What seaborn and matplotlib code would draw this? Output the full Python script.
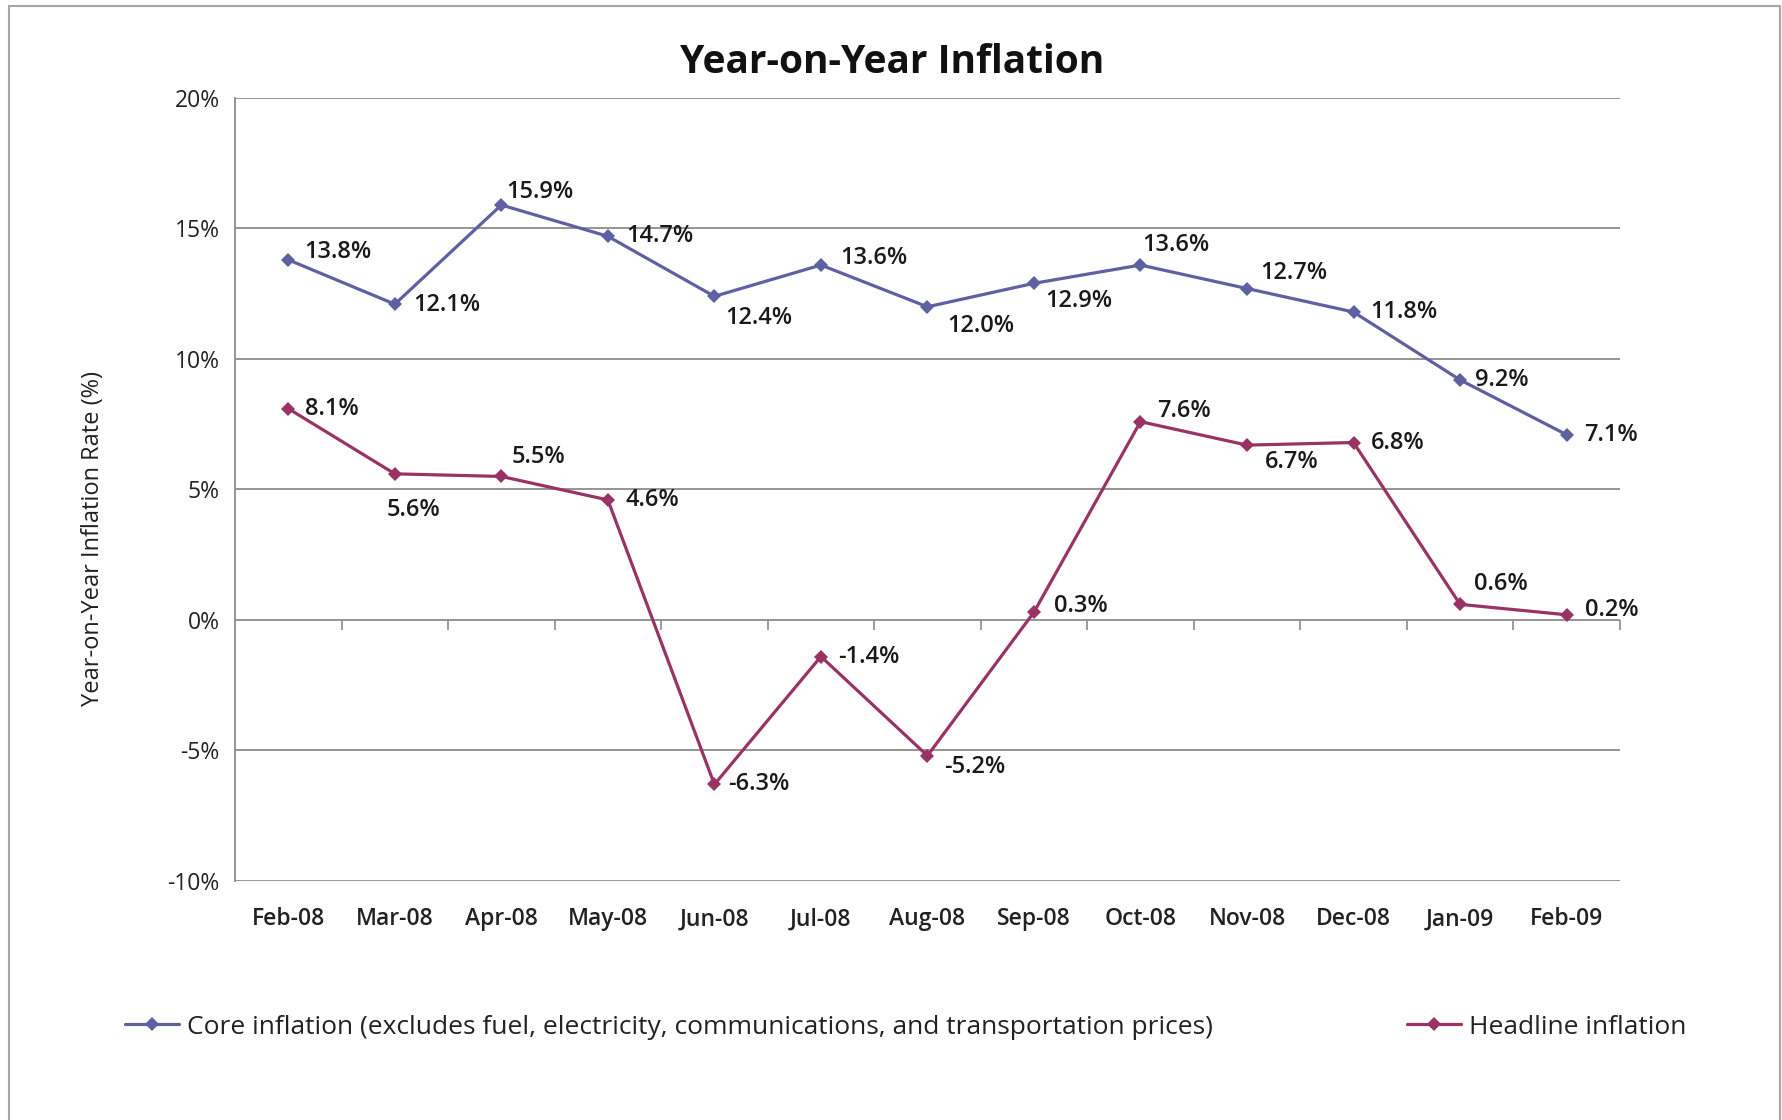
"""Year-on-year inflation chart: core vs headline, Feb-08 to Feb-09."""

import matplotlib
matplotlib.use("Agg")
import matplotlib.pyplot as plt
from matplotlib.patches import Rectangle
import numpy as np
import pandas as pd
import seaborn as sns

# Data
months = ["Feb-08", "Mar-08", "Apr-08", "May-08", "Jun-08", "Jul-08", "Aug-08",
          "Sep-08", "Oct-08", "Nov-08", "Dec-08", "Jan-09", "Feb-09"]
core = [13.8, 12.1, 15.9, 14.7, 12.4, 13.6, 12.0, 12.9, 13.6, 12.7, 11.8, 9.2, 7.1]
headline = [8.1, 5.6, 5.5, 4.6, -6.3, -1.4, -5.2, 0.3, 7.6, 6.7, 6.8, 0.6, 0.2]
core_name = "Core inflation (excludes fuel, electricity, communications, and transportation prices)"
headline_name = "Headline inflation"
y_ticks = [-10, -5, 0, 5, 10, 15, 20]

# label offsets (pixels) - hand placed like the original
core_offsets = [(16, 8), (18, -1), (5, 13), (18, 0), (11, -22), (19, 7), (20, -19),
                (11, -18), (2, 20), (13, 16), (17, 0), (15, 0), (18, 0)]
headline_offsets = [(17, 0), (-8, -36), (10, 19), (18, 0), (14, 0), (17, 0), (17, -11),
                    (20, 6), (17, 11), (18, -17), (17, 0), (14, 20), (18, 5)]

core_color = "#5F60A2"
headline_color = "#993366"
grid_color = "#8C8C8C"

sns.set_style("white")
plt.rcParams["font.family"] = ["Open Sans", "DejaVu Sans"]

fig = plt.figure(figsize=(17.82, 11.2), dpi=100)
ax = fig.add_axes([0.1319, 0.2134, 0.909 - 0.1319, 0.9125 - 0.2134])

df = pd.DataFrame({
    "month": months * 2,
    "value": core + headline,
    "series": [core_name] * len(months) + [headline_name] * len(months),
})
sns.lineplot(data=df, x="month", y="value", hue="series", sort=False,
             palette={core_name: core_color, headline_name: headline_color},
             marker="D", markersize=7, markeredgewidth=0, linewidth=2.3, ax=ax)

for series, offsets, name in [(core, core_offsets, core_name),
                              (headline, headline_offsets, headline_name)]:
    for i, (val, (dx, dy)) in enumerate(zip(series, offsets)):
        ax.annotate(f"{val:.1f}%", (i, val), xytext=(dx, dy), textcoords="offset pixels",
                    ha="left", va="center", fontsize=17, fontweight="semibold",
                    color="#1a1a1a")

ax.set_xlim(-0.5, len(months) - 0.5)
ax.set_ylim(-10, 20)
ax.set_yticks(y_ticks)
ax.set_yticklabels([f"{t}%" for t in y_ticks], fontsize=16.5, color="#222222")
ax.set_xticks(np.arange(len(months)))
ax.set_xticklabels(months, fontsize=16.5, fontweight="semibold", color="#222222")
ax.tick_params(axis="x", length=0, pad=19)
ax.tick_params(axis="y", length=6, width=1.2, color=grid_color, direction="out", pad=5)
ax.set_xlabel("")
ax.set_ylabel("")
ax.grid(axis="y", color=grid_color, linewidth=1.3)
ax.grid(axis="x", visible=False)
for side in ["top", "right", "bottom"]:
    ax.spines[side].set_visible(False)
ax.spines["left"].set_color(grid_color)
ax.spines["left"].set_linewidth(1.3)

# category boundary ticks sitting on the 0% line
zero_axis = ax.secondary_xaxis(10 / 30)
zero_axis.set_xticks(np.arange(0.5, len(months), 1.0))
zero_axis.set_xticklabels([])
zero_axis.tick_params(length=7, width=1.2, color=grid_color, direction="out")
zero_axis.spines["bottom"].set_visible(False)

ax.get_legend().remove()
handles, labels = ax.get_legend_handles_labels()
fig.legend(handles, labels, loc="center left", bbox_to_anchor=(0.057, 0.083), ncol=2,
           frameon=False, fontsize=19, handlelength=2.05, handletextpad=0.3,
           columnspacing=7.35, labelcolor="#222222")

fig.suptitle("Year-on-Year Inflation", x=0.5006, y=0.944, va="center",
             fontsize=28, fontweight="bold", color="#111111")
fig.text(0.052, 0.5196, "Year-on-Year Inflation Rate (%)", rotation=90,
         ha="center", va="center", fontsize=17, color="#222222")

fig.patches.append(Rectangle((9 / 1782, -0.1), (1780 - 9) / 1782, 1.1 - 6 / 1120,
                             transform=fig.transFigure, fill=False,
                             edgecolor="#A6A6A6", linewidth=1.5))

fig.savefig("out.png", dpi=100)
plt.close(fig)
